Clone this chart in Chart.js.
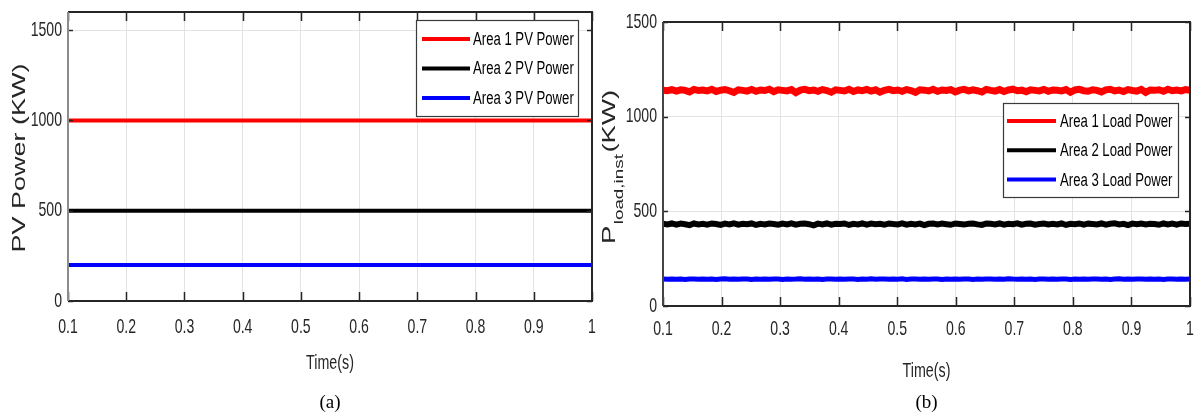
<!DOCTYPE html>
<html>
<head>
<meta charset="utf-8">
<script src="https://cdn.jsdelivr.net/npm/chart.js@4/dist/chart.umd.min.js"></script>
<style>
  html, body { margin: 0; padding: 0; background: #fff; }
  .panel { position: absolute; top: 0; width: 598px; height: 416px; }
  #panelA { left: 0; }
  #panelB { left: 598px; }
</style>
</head>
<body>
<div class="panel" id="panelA"><canvas id="pvChart" width="598" height="416"></canvas></div>
<div class="panel" id="panelB"><canvas id="loadChart" width="598" height="416"></canvas></div>
<script>
// time axis (s)
const timeStart = 0.1;
const timeEnd = 1;
const timeTicks = [0.1, 0.2, 0.3, 0.4, 0.5, 0.6, 0.7, 0.8, 0.9, 1];

// (a) PV power per area, KW (steady)
const pvLabels = ['Area 1 PV Power', 'Area 2 PV Power', 'Area 3 PV Power'];
const pvArea1 = [1000, 1000];
const pvArea2 = [500, 500];
const pvArea3 = [200, 200];
const pvTicks = [0, 500, 1000, 1500];

// (b) instantaneous load power per area, KW (sampled)
const loadLabels = ['Area 1 Load Power', 'Area 2 Load Power', 'Area 3 Load Power'];
const loadArea1 = [
  1140,1137,1143,1135,1142,1139,1131,1144,1138,1141,
  1136,1145,1133,1140,1143,1137,1128,1142,1139,1135,
  1144,1134,1141,1138,1145,1132,1142,1139,1136,1143,
  1127,1140,1144,1137,1141,1134,1143,1138,1129,1142,
  1139,1136,1145,1133,1141,1137,1144,1135,1142,1130,
  1139,1144,1137,1141,1134,1143,1138,1128,1142,1140,
  1136,1145,1134,1141,1138,1143,1131,1140,1144,1136,
  1142,1137,1130,1144,1139,1135,1143,1133,1141,1145,
  1137,1140,1132,1142,1139,1136,1144,1134,1141,1139,
  1136,1143,1129,1141,1144,1137,1134,1142,1139,1131,
  1142,1145,1136,1140,1133,1143,1138,1135,1144,1128,
  1141,1139,1142,1134,1145,1137,1141,1136,1143,1139
];
const loadArea2 = [
  434,431,436,430,435,432,427,436,431,434,
  430,436,433,428,435,431,437,430,434,432,
  436,428,434,431,436,433,429,435,431,437,
  430,434,436,432,426,435,431,436,430,434,
  433,436,428,434,431,436,430,435,432,434,
  429,436,433,431,437,430,434,431,435,427,
  434,436,431,435,432,429,436,433,430,434,
  436,431,428,435,434,431,436,430,434,432,
  437,430,434,435,429,433,436,431,434,431,
  436,428,434,432,436,430,435,433,431,436,
  430,434,437,431,434,427,435,432,436,431,
  434,433,429,436,431,435,430,436,433,434
];
const loadArea3 = [
  142,141,143,141,142,140,143,142,141,143,
  141,143,140,142,144,141,142,141,143,142,
  140,142,141,143,141,142,143,140,142,141,
  142,144,141,142,141,143,140,142,143,141,
  142,141,143,142,140,142,141,144,141,142,
  143,141,142,141,144,140,142,143,141,142,
  141,142,143,140,142,141,143,141,142,143,
  140,143,141,142,143,141,142,141,144,142,
  141,142,141,143,140,142,143,141,142,141,
  142,143,140,142,141,143,141,142,143,141,
  142,140,142,144,141,142,141,143,142,141,
  143,141,142,140,142,143,141,142,141,142
];
const loadTicks = [0, 500, 1000, 1500];

const seriesColors = ['#ff0000', '#000000', '#0000ff'];

const SANS = "'Liberation Sans', Arial, sans-serif";
const SERIF = "'Liberation Serif', 'Times New Roman', serif";

// pair samples with evenly spaced sample instants
function toPoints(values) {
    const n = values.length;
    return values.map((v, i) => ({ x: timeStart + (timeEnd - timeStart) * i / (n - 1), y: v }));
}

function fmtTime(v) {
    return String(Number(v.toFixed(1)));
}

// condensed text: regular sans squeezed horizontally
function narrowText(ctx, text, x, y, size, align, squeeze) {
    ctx.save();
    ctx.translate(x, y);
    ctx.scale(squeeze, 1);
    ctx.font = size + 'px ' + SANS;
    ctx.textAlign = align;
    ctx.textBaseline = 'middle';
    ctx.fillText(text, 0, 0);
    ctx.restore();
}

// frame, inward ticks, tick labels, axis titles, legend box and caption
const figurePlugin = {
    id: 'figure',
    afterDraw(chart, args, o) {
        const ctx = chart.ctx;
        const a = chart.chartArea;
        const xs = chart.scales.x, ys = chart.scales.y;
        ctx.save();

        // inward tick marks
        ctx.strokeStyle = '#262626';
        ctx.lineWidth = 1.5;
        ctx.beginPath();
        xs.ticks.forEach(t => {
            const px = Math.round(xs.getPixelForValue(t.value)) + 0.5;
            ctx.moveTo(px, a.bottom); ctx.lineTo(px, a.bottom - 9);
            ctx.moveTo(px, a.top); ctx.lineTo(px, a.top + 9);
        });
        ys.ticks.forEach(t => {
            const py = Math.round(ys.getPixelForValue(t.value)) + 0.5;
            ctx.moveTo(a.left, py); ctx.lineTo(a.left + 5, py);
            ctx.moveTo(a.right, py); ctx.lineTo(a.right - 5, py);
        });
        ctx.stroke();

        // box
        ctx.lineWidth = 2;
        ctx.strokeStyle = '#262626';
        ctx.beginPath();
        ctx.moveTo(a.left, a.bottom); ctx.lineTo(a.right, a.bottom);
        ctx.lineTo(a.right, a.top); ctx.lineTo(a.left, a.top);
        ctx.stroke();
        ctx.strokeStyle = o.leftAxisColor;
        ctx.beginPath();
        ctx.moveTo(a.left, a.top); ctx.lineTo(a.left, a.bottom);
        ctx.stroke();

        // tick labels from the scales
        ctx.fillStyle = '#262626';
        xs.ticks.forEach(t => {
            narrowText(ctx, fmtTime(t.value), xs.getPixelForValue(t.value), o.xLabelY, 21, 'center', 0.67);
        });
        ys.ticks.forEach(t => {
            narrowText(ctx, String(t.value), a.left - 6, ys.getPixelForValue(t.value), 21, 'right', 0.67);
        });

        // legend
        const lg = o.legend;
        ctx.fillStyle = '#fff';
        ctx.fillRect(lg.x, lg.y, lg.w, lg.h);
        ctx.strokeStyle = '#3a3a3a';
        ctx.lineWidth = 1.2;
        ctx.strokeRect(lg.x + 0.5, lg.y + 0.5, lg.w, lg.h);
        chart.data.datasets.forEach((ds, i) => {
            const ry = lg.y + lg.rowStart + i * lg.rowGap;
            ctx.strokeStyle = ds.borderColor;
            ctx.lineWidth = 4;
            ctx.beginPath();
            ctx.moveTo(lg.x + lg.lineFrom, ry);
            ctx.lineTo(lg.x + lg.lineTo, ry);
            ctx.stroke();
            ctx.fillStyle = '#000';
            narrowText(ctx, ds.label, lg.x + lg.textAt, ry + 1, 18, 'left', 0.73);
        });

        // x title and caption
        const cx = (a.left + a.right) / 2;
        ctx.fillStyle = '#262626';
        narrowText(ctx, 'Time(s)', cx, o.xTitleY, 21, 'center', 0.68);
        ctx.fillStyle = '#000';
        ctx.font = '19px ' + SERIF;
        ctx.textAlign = 'center';
        ctx.textBaseline = 'middle';
        ctx.fillText(o.caption, cx, 403);

        // rotated y title, stretched along its length, parts may be lowered as subscripts
        ctx.translate(o.yTitleX, o.yTitleY);
        ctx.rotate(-Math.PI / 2);
        ctx.scale(o.yStretch, 1);
        ctx.textAlign = 'left';
        ctx.textBaseline = 'alphabetic';
        ctx.fillStyle = '#262626';
        let total = 0;
        o.yTitle.forEach(p => {
            ctx.font = p.size + 'px ' + SANS;
            p.w = ctx.measureText(p.text).width + (p.gap || 0);
            total += p.w;
        });
        let x = -total / 2;
        o.yTitle.forEach(p => {
            ctx.font = p.size + 'px ' + SANS;
            ctx.fillText(p.text, x, p.shift);
            x += p.w;
        });
        ctx.restore();
    }
};

function buildOptions(area, yMax, yTickList, plugOpts) {
    return {
        responsive: false,
        animation: false,
        devicePixelRatio: 1,
        layout: { padding: { left: 0, top: area.top, right: 598 - area.right, bottom: 0 } },
        plugins: {
            legend: { display: false },
            tooltip: { enabled: false },
            figure: plugOpts
        },
        elements: { point: { radius: 0 }, line: { tension: 0 } },
        scales: {
            x: {
                type: 'linear',
                min: timeStart,
                max: timeEnd,
                afterBuildTicks: s => { s.ticks = timeTicks.map(v => ({ value: v })); },
                afterFit: s => { s.height = 416 - area.bottom; s.paddingLeft = 0; s.paddingRight = 0; },
                grid: { color: '#e3e3e3', lineWidth: 1, drawTicks: false },
                border: { display: false },
                ticks: { display: false }
            },
            y: {
                min: 0,
                max: yMax,
                afterBuildTicks: s => { s.ticks = yTickList.map(v => ({ value: v })); },
                afterFit: s => { s.width = area.left; s.paddingTop = 0; s.paddingBottom = 0; },
                grid: { color: '#e3e3e3', lineWidth: 1, drawTicks: false },
                border: { display: false },
                ticks: { display: false }
            }
        }
    };
}

function lineSet(label, points, color, width) {
    return { label: label, data: points, borderColor: color, backgroundColor: color, borderWidth: width, pointRadius: 0 };
}

new Chart(document.getElementById('pvChart'), {
    type: 'line',
    data: {
        datasets: [
            lineSet(pvLabels[0], toPoints(pvArea1), seriesColors[0], 4),
            lineSet(pvLabels[1], toPoints(pvArea2), seriesColors[1], 4),
            lineSet(pvLabels[2], toPoints(pvArea3), seriesColors[2], 4)
        ]
    },
    options: buildOptions({ left: 68, right: 592, top: 12, bottom: 301 }, 1600, pvTicks, {
        leftAxisColor: '#8c8c8c',
        caption: '(a)',
        xLabelY: 327,
        xTitleY: 363,
        yTitleX: 25,
        yTitleY: 158,
        yStretch: 1.5,
        yTitle: [{ text: 'PV Power (KW)', size: 18, shift: 0 }],
        legend: { x: 416, y: 20, w: 162, h: 96, rowStart: 19, rowGap: 29.5, lineFrom: 6, lineTo: 54, textAt: 57 }
    }),
    plugins: [figurePlugin]
});

new Chart(document.getElementById('loadChart'), {
    type: 'line',
    data: {
        datasets: [
            lineSet(loadLabels[0], toPoints(loadArea1), seriesColors[0], 7),
            lineSet(loadLabels[1], toPoints(loadArea2), seriesColors[1], 6),
            lineSet(loadLabels[2], toPoints(loadArea3), seriesColors[2], 5)
        ]
    },
    options: buildOptions({ left: 65, right: 592, top: 22, bottom: 306 }, 1500, loadTicks, {
        leftAxisColor: '#444',
        caption: '(b)',
        xLabelY: 329,
        xTitleY: 371,
        yTitleX: 17,
        yTitleY: 167,
        yStretch: 1.45,
        yTitle: [
            { text: 'P', size: 19, shift: 0, gap: 1 },
            { text: 'load,inst', size: 13, shift: 8, gap: 1 },
            { text: '(KW)', size: 19, shift: 0 }
        ],
        legend: { x: 405, y: 103, w: 175, h: 94, rowStart: 18, rowGap: 29.3, lineFrom: 4, lineTo: 53, textAt: 57 }
    }),
    plugins: [figurePlugin]
});
</script>
</body>
</html>
